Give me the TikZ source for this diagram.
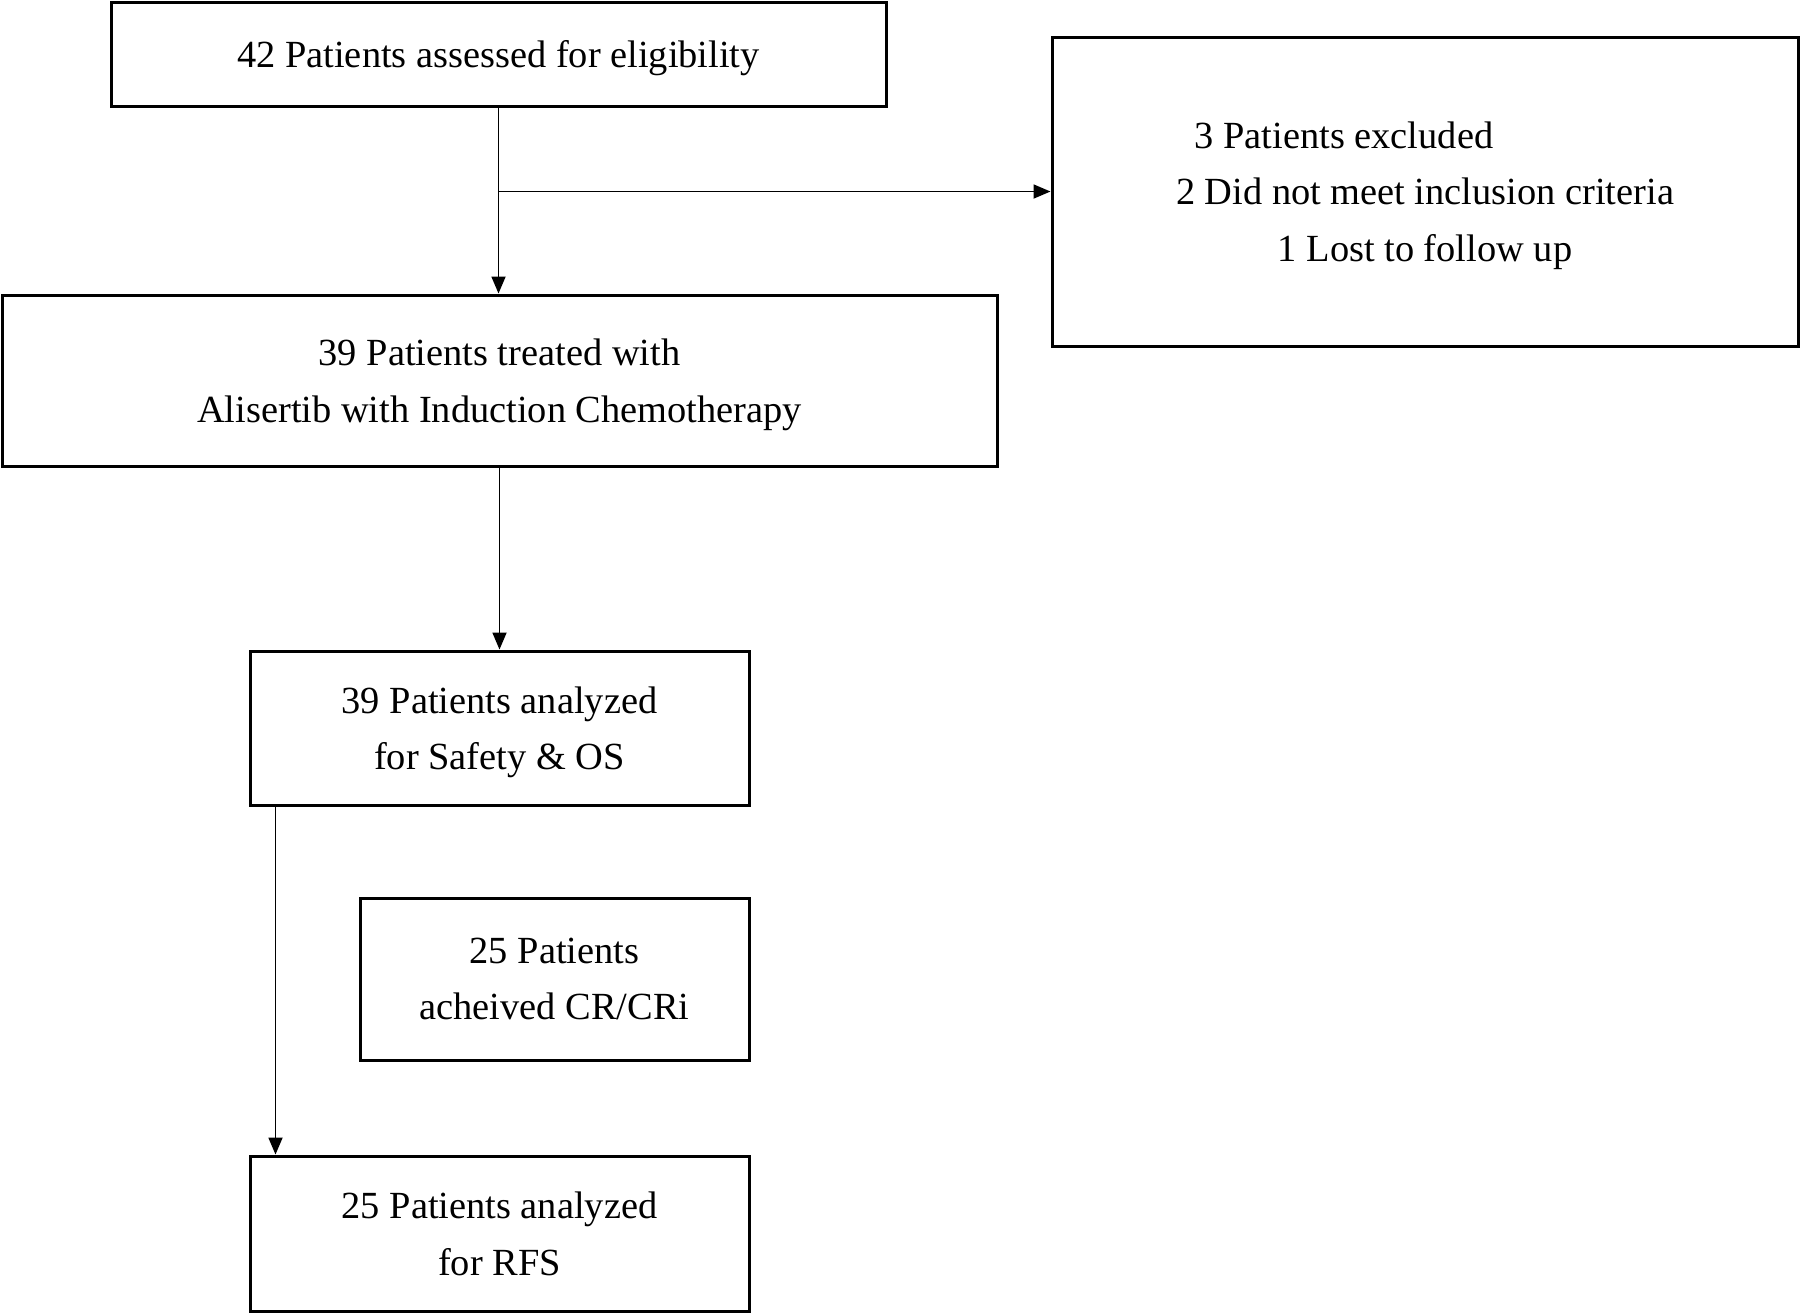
\documentclass[tikz,border=0pt]{standalone}
\usepackage{fontspec}
\setmainfont{Liberation Serif}
\usetikzlibrary{arrows.meta}

\begin{document}
\begin{tikzpicture}[x=0.5pt,y=-0.5pt]
\tikzstyle{every node}+=[inner sep=0pt]
\tikzstyle{box}=[draw=black, line width=1.5pt, rectangle, align=center, text depth=0pt, font=\fontsize{19.2}{28.25}\selectfont]
\tikzstyle{link}=[black, line width=0.9pt, -{Triangle[length=8.5pt,width=7pt]}]
\useasboundingbox (0,0) rectangle (1800,1313);
\node [box, minimum width=387.5pt, minimum height=52pt] (assess) at (498.5,54) {42 Patients assessed for eligibility};
\node [box, minimum width=373pt, minimum height=154.5pt] (excl) at (1425,191.5) {3 Patients excluded\hspace*{81pt}\\2 Did not meet inclusion criteria\\1 Lost to follow up};
\node [box, minimum width=497.5pt, minimum height=85.5pt] (treat) at (499.5,380.5) {39 Patients treated with\\Alisertib with Induction Chemotherapy};
\node [box, minimum width=249.5pt, minimum height=77pt] (safety) at (499.5,728) {39 Patients analyzed\\for Safety \& OS};
\node [box, minimum width=194.5pt, minimum height=81pt] (cr) at (554.5,979) {25 Patients\\acheived CR/CRi};
\node [box, minimum width=249.5pt, minimum height=77.5pt] (rfs) at (499.5,1233.5) {25 Patients analyzed\\for RFS};
\coordinate (split) at (assess.south |- excl.west);
\coordinate (tap) at ([xshift=13.5pt]safety.south west);
\draw [link] (assess.south) -- (assess.south |- treat.north);
\draw [link] (split) -- (excl.west);
\draw [link] (treat.south) -- (safety.north);
\draw [link] (tap) -- (tap |- rfs.north);
\end{tikzpicture}
\end{document}
